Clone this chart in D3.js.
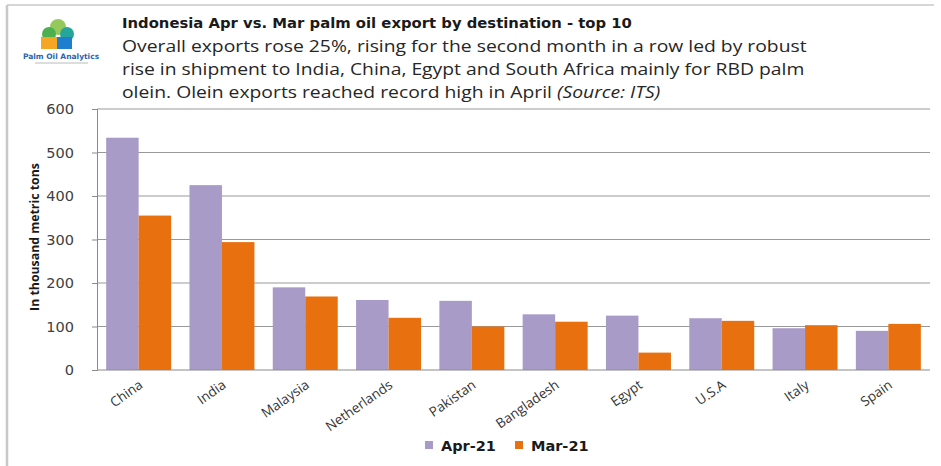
<!DOCTYPE html>
<html><head><meta charset="utf-8">
<script src="https://cdn.jsdelivr.net/npm/d3@7"></script>
<style>
body{margin:0;background:#fff;}
svg{display:block;}
</style></head>
<body>
<svg id="chart" width="941" height="466"></svg>
<script>
const categories = ["China","India","Malaysia","Netherlands","Pakistan","Bangladesh","Egypt","U.S.A","Italy","Spain"];
const apr21 = [534, 425, 190, 161, 159, 128, 125, 119, 96, 90];
const mar21 = [355, 294, 169, 120, 100, 111, 40, 113, 103, 106];
const seriesNames = ["Apr-21","Mar-21"];
const yTicks = [0,100,200,300,400,500,600];
const titleText = "Indonesia Apr vs. Mar palm oil export by destination - top 10";
const subtitleLines = [
  "Overall exports rose 25%, rising for the second month in a row led by robust",
  "rise in shipment to India, China, Egypt and South Africa mainly for RBD palm",
  "olein. Olein exports reached record high in April "
];
const sourceText = "(Source: ITS)";
const yLabel = "In thousand metric tons";

const colors = ["#a99bc8", "#e8700e"];
const svg = d3.select("#chart");

// frame
svg.append("line").attr("x1",7).attr("x2",934).attr("y1",5).attr("y2",5).attr("stroke","#c8c8c8").attr("stroke-width",1.5);
svg.append("line").attr("x1",7).attr("x2",7).attr("y1",5).attr("y2",466).attr("stroke","#c8c8c8").attr("stroke-width",2.5);

// logo
const logo = svg.append("g");
logo.append("circle").attr("cx",58).attr("cy",27).attr("r",8).attr("fill","#8bc34a").attr("opacity",0.9);
logo.append("circle").attr("cx",49).attr("cy",34).attr("r",7).attr("fill","#4caf50");
logo.append("circle").attr("cx",67).attr("cy",34).attr("r",7).attr("fill","#26a69a");
logo.append("rect").attr("x",41).attr("y",37).attr("width",16).attr("height",12).attr("fill","#f5a623");
logo.append("rect").attr("x",57).attr("y",37).attr("width",15).attr("height",12).attr("fill","#1e7fd0");
logo.append("text").attr("x",61).attr("y",59).attr("text-anchor","middle")
  .attr("font-family","DejaVu Sans").attr("font-weight","bold").attr("font-size",7.5).attr("fill","#2d63b0")
  .text("Palm Oil Analytics");
logo.append("line").attr("x1",35).attr("x2",88).attr("y1",63).attr("y2",63).attr("stroke","#bbb").attr("stroke-width",1);

// titles
svg.append("g").attr("transform","translate(122,28) scale(1.06,1)")
  .append("text").attr("x",0).attr("y",0)
  .attr("font-family","DejaVu Sans").attr("font-weight","bold").attr("font-size",14).attr("fill","#1a1a1a")
  .text(titleText);
const sub = svg.append("g").attr("transform","translate(122,0) scale(1.15,1)");
subtitleLines.forEach((t,i)=>{
  const tx = sub.append("text").attr("x",0).attr("y",52+i*23)
    .attr("font-family","Open Sans").attr("font-size",16.8).attr("fill","#262626").text(t);
  if(i===2) tx.append("tspan").attr("font-style","italic").text(sourceText);
});

// scales
const x0 = d3.scaleBand().domain(categories).range([97,930]).paddingInner(0.22).paddingOuter(0.11);
const x1 = d3.scaleBand().domain(seriesNames).range([0,x0.bandwidth()]);
const y = d3.scaleLinear().domain([0,600]).range([370,109]);

// gridlines
svg.append("g").selectAll("line").data(yTicks.filter(d=>d>0)).join("line")
  .attr("x1",97).attr("x2",930).attr("y1",d=>y(d)).attr("y2",d=>y(d))
  .attr("stroke","#999").attr("stroke-width",1);

// y axis
const yAxis = svg.append("g").attr("transform","translate(97,0)")
  .call(d3.axisLeft(y).tickValues(yTicks).tickSize(5).tickPadding(18));
yAxis.select(".domain").attr("stroke","#8a8a8a");
yAxis.selectAll(".tick line").attr("stroke","#8a8a8a");
yAxis.selectAll("text").attr("font-family","DejaVu Sans").attr("font-size",14.5).attr("fill","#404040");

// bars
const data = categories.map((c,i)=>({c, vals:[apr21[i], mar21[i]]}));
const groups = svg.append("g").selectAll("g").data(data).join("g")
  .attr("transform",d=>`translate(${x0(d.c)},0)`);
groups.selectAll("rect").data(d=>d.vals.map((v,j)=>({s:seriesNames[j],v,j}))).join("rect")
  .attr("x",d=>x1(d.s)).attr("width",x1.bandwidth())
  .attr("y",d=>y(d.v)).attr("height",d=>y(0)-y(d.v))
  .attr("fill",d=>colors[d.j]);

// x axis
const xAxis = svg.append("g").attr("transform","translate(0,370)")
  .call(d3.axisBottom(x0).tickSize(0).tickPadding(0));
xAxis.select(".domain").attr("stroke","#8a8a8a").attr("d","M97,0H930");
xAxis.selectAll("text")
  .attr("font-family","Open Sans").attr("font-size",13.5).attr("fill","#333")
  .attr("text-anchor","end").attr("dy",0)
  .attr("transform","translate(5,17) rotate(-35)");

// y label
svg.append("text").attr("transform","translate(39,237) rotate(-90)").attr("text-anchor","middle")
  .attr("font-family","Open Sans").attr("font-weight","bold").attr("font-size",12.3).attr("fill","#1a1a1a")
  .text(yLabel);

// legend
const legend = svg.append("g");
const legX = [425, 515];
seriesNames.forEach((s,i)=>{
  legend.append("rect").attr("x",legX[i]).attr("y",441).attr("width",8).attr("height",8).attr("fill",colors[i]);
  legend.append("text").attr("x",legX[i]+16).attr("y",450.5)
    .attr("font-family","DejaVu Sans").attr("font-weight","bold").attr("font-size",14.5).attr("fill","#1a1a1a")
    .text(s);
});
</script>
</body></html>
